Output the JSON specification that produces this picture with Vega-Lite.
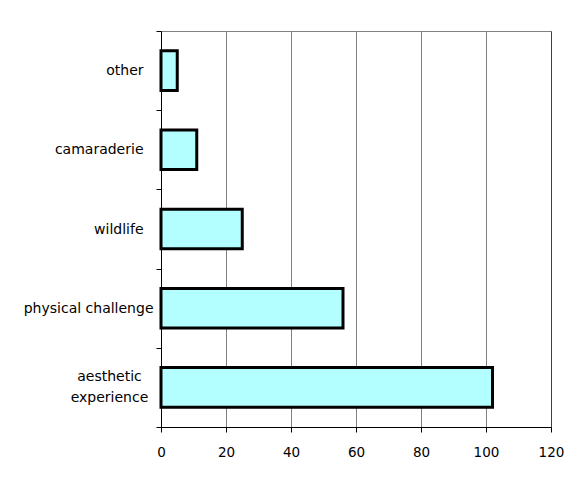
{
  "$schema": "https://vega.github.io/schema/vega-lite/v6.json",
  "autosize": {"type": "none"},
  "padding": {"left": 161, "top": 31, "right": 37, "bottom": 64},
  "width": 390,
  "height": 396,
  "background": "white",
  "config": {
    "view": {"stroke": "#808080", "strokeWidth": 1},
    "font": "DejaVu Sans"
  },
  "data": {
    "values": [
      {"reason": "other", "count": 5},
      {"reason": "camaraderie", "count": 11},
      {"reason": "wildlife", "count": 25},
      {"reason": "physical challenge", "count": 56},
      {"reason": "aesthetic experience", "count": 102}
    ]
  },
  "mark": {"type": "bar", "fill": "#b3ffff", "stroke": "black", "strokeWidth": 3, "height": {"band": 0.5}},
  "encoding": {
    "y": {
      "field": "reason",
      "type": "nominal",
      "sort": null,
      "scale": {"paddingInner": 0, "paddingOuter": 0},
      "axis": {
        "title": null,
        "domainColor": "black",
        "domainWidth": 1,
        "tickColor": "black",
        "tickSize": 5,
        "tickBand": "extent",
        "labelFont": "DejaVu Sans",
        "labelFontSize": 14,
        "labelColor": "black",
        "labelAlign": {"condition": {"test": "datum.value == 'aesthetic experience'", "value": "center"}, "value": "right"},
        "labelPadding": {"condition": [
          {"test": "datum.value == 'aesthetic experience'", "value": 47},
          {"test": "datum.value == 'physical challenge'", "value": 3}
        ], "value": 13},
        "labelOffset": {"condition": {"test": "datum.value == 'aesthetic experience'", "value": -10.5}, "value": 0},
        "labelLineHeight": 21,
        "labelExpr": "datum.label == 'aesthetic experience' ? ['aesthetic', 'experience'] : datum.label"
      }
    },
    "x": {
      "field": "count",
      "type": "quantitative",
      "scale": {"domain": [0, 120], "nice": false},
      "axis": {
        "title": null,
        "values": [0, 20, 40, 60, 80, 100, 120],
        "grid": true,
        "gridColor": {"condition": {"test": "datum.value == 120", "value": "#404040"}, "value": "#808080"},
        "gridWidth": 1,
        "domainColor": "black",
        "domainWidth": 1,
        "tickColor": "black",
        "tickSize": 5,
        "labelFlush": false,
        "labelFont": "DejaVu Sans",
        "labelFontSize": 13.5,
        "labelColor": "black",
        "labelPadding": 13
      }
    }
  }
}
